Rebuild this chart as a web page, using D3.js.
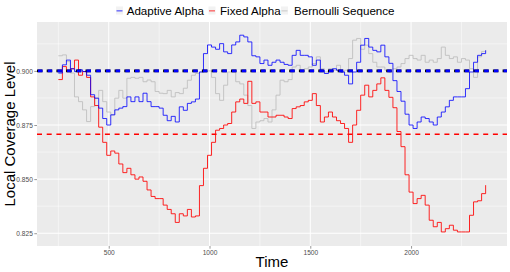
<!DOCTYPE html>
<html><head><meta charset="utf-8">
<script src="https://cdn.jsdelivr.net/npm/d3@7"></script>
<style>body{margin:0;background:#fff}svg{display:block;font-family:"Liberation Sans",Arial,sans-serif}</style>
</head><body><svg id="c" width="510" height="272"></svg>
<script>
const times = [250,270,290,310,330,350,370,390,410,430,450,470,490,510,530,550,570,590,610,630,650,670,690,710,730,750,770,790,810,830,850,870,890,910,930,950,970,990,1010,1030,1050,1070,1090,1110,1130,1150,1170,1190,1210,1230,1250,1270,1290,1310,1330,1350,1370,1390,1410,1430,1450,1470,1490,1510,1530,1550,1570,1590,1610,1630,1650,1670,1690,1710,1730,1750,1770,1790,1810,1830,1850,1870,1890,1910,1930,1950,1970,1990,2010,2030,2050,2070,2090,2110,2130,2150,2170,2190,2210,2230,2250,2270,2290,2310,2330,2350,2370];
const adaptive = [0.899,0.9028,0.905,0.901,0.8997,0.9005,0.8997,0.898,0.889,0.8874,0.8828,0.878,0.875,0.8797,0.882,0.8828,0.8835,0.888,0.8858,0.888,0.8858,0.8897,0.8858,0.8835,0.8835,0.8828,0.8795,0.877,0.879,0.8764,0.8834,0.8818,0.885,0.8857,0.887,0.8995,0.908,0.912,0.911,0.91,0.9126,0.9088,0.908,0.912,0.9134,0.9165,0.9157,0.9134,0.907,0.9065,0.9034,0.905,0.9026,0.904,0.905,0.904,0.903,0.9026,0.9072,0.9095,0.9072,0.9072,0.9065,0.9026,0.905,0.9003,0.8988,0.9003,0.901,0.9003,0.8995,0.898,0.894,0.8995,0.904,0.9119,0.915,0.911,0.9095,0.9088,0.9119,0.9065,0.9035,0.8955,0.8905,0.886,0.88,0.875,0.8734,0.8764,0.8787,0.878,0.8764,0.875,0.8787,0.881,0.8834,0.8864,0.888,0.888,0.888,0.8918,0.8995,0.904,0.9072,0.908,0.9095];
const fixed = [0.896,0.902,0.8997,0.901,0.905,0.898,0.8997,0.897,0.888,0.884,0.874,0.867,0.861,0.863,0.862,0.857,0.853,0.855,0.852,0.85,0.851,0.849,0.845,0.842,0.841,0.841,0.838,0.836,0.834,0.83,0.834,0.833,0.836,0.8325,0.833,0.847,0.855,0.861,0.867,0.8726,0.8734,0.875,0.8757,0.881,0.8857,0.887,0.885,0.8952,0.885,0.8857,0.881,0.881,0.8787,0.8787,0.8795,0.8795,0.8787,0.878,0.8826,0.8834,0.884,0.8857,0.8864,0.8895,0.884,0.8764,0.8787,0.881,0.8787,0.877,0.8757,0.8734,0.867,0.875,0.8818,0.8888,0.8934,0.888,0.891,0.894,0.8968,0.891,0.8878,0.883,0.872,0.865,0.852,0.844,0.8387,0.841,0.8425,0.838,0.831,0.828,0.83,0.8256,0.8271,0.8287,0.8264,0.8256,0.8256,0.8256,0.8333,0.8395,0.84,0.8433,0.8472];
const bernoulli = [0.907,0.9074,0.9043,0.899,0.888,0.8858,0.882,0.8766,0.8835,0.8874,0.891,0.8858,0.881,0.8797,0.8874,0.891,0.8874,0.8966,0.897,0.8966,0.897,0.895,0.8958,0.895,0.8905,0.8897,0.8895,0.891,0.888,0.89,0.8895,0.892,0.8957,0.898,0.8988,0.8995,0.8995,0.9,0.897,0.8895,0.8864,0.8934,0.8995,0.8995,0.895,0.894,0.8888,0.884,0.8734,0.8764,0.877,0.878,0.8764,0.882,0.8888,0.8957,0.895,0.896,0.9018,0.9026,0.8995,0.901,0.9018,0.9034,0.9065,0.901,0.8995,0.901,0.9003,0.9026,0.8995,0.9003,0.9057,0.9142,0.915,0.91,0.9119,0.908,0.904,0.9018,0.9018,0.9003,0.8995,0.901,0.9018,0.9034,0.9057,0.9072,0.9057,0.905,0.9072,0.904,0.905,0.904,0.9057,0.911,0.9072,0.9057,0.9065,0.904,0.9057,0.905,0.901,0.897,0.9065,0.909,0.9095];
const targetLevel = 0.9;
const fixedMean = 0.8707;
const xTicks = [500,1000,1500,2000];
const xMinor = [250,750,1250,1750,2250];
const yTicks = [0.825,0.85,0.875,0.9];
const yMinor = [0.8375,0.8625,0.8875,0.9125];
const seriesNames = ["Adaptive Alpha","Fixed Alpha","Bernoulli Sequence"];
const seriesColors = ["#0000ff","#ff0000","#bdbdbd"];

const svg = d3.select("#c");
const L=37,R=507,T=22,B=246;
const x = d3.scaleLinear().domain([144,2476]).range([L,R]);
const y = d3.scaleLinear().domain([0.8191,0.9226]).range([B,T]);

svg.append("rect").attr("x",L).attr("y",T).attr("width",R-L).attr("height",B-T).attr("fill","#ebebeb");
const g = svg.append("g");
xMinor.forEach(v=>g.append("line").attr("x1",x(v)).attr("x2",x(v)).attr("y1",T).attr("y2",B).attr("stroke","#fff").attr("stroke-width",0.5));
yMinor.forEach(v=>g.append("line").attr("y1",y(v)).attr("y2",y(v)).attr("x1",L).attr("x2",R).attr("stroke","#fff").attr("stroke-width",0.5));
xTicks.forEach(v=>g.append("line").attr("x1",x(v)).attr("x2",x(v)).attr("y1",T).attr("y2",B).attr("stroke","#fff").attr("stroke-width",1));
yTicks.forEach(v=>g.append("line").attr("y1",y(v)).attr("y2",y(v)).attr("x1",L).attr("x2",R).attr("stroke","#fff").attr("stroke-width",1));

const data = [bernoulli, fixed, adaptive];
const cols = [seriesColors[2], seriesColors[1], seriesColors[0]];
const line = d3.line().x((d,i)=>x(times[i])).y(d=>y(d)).curve(d3.curveStepAfter);
data.forEach((s,j)=>{
  svg.append("path").datum(s).attr("d",line).attr("fill","none").attr("stroke",cols[j]).attr("stroke-width",1).attr("stroke-opacity",j==2?0.8:0.85);
});

svg.append("line").attr("x1",L).attr("x2",R).attr("y1",y(fixedMean)).attr("y2",y(fixedMean))
  .attr("stroke","#ff0000").attr("stroke-width",1.4).attr("stroke-dasharray","5,4.7");
svg.append("line").attr("x1",L).attr("x2",R).attr("y1",y(targetLevel)).attr("y2",y(targetLevel))
  .attr("stroke","#000").attr("stroke-width",2.8).attr("stroke-dasharray","5.5,4.2");
svg.append("line").attr("x1",L).attr("x2",R).attr("y1",y(targetLevel)).attr("y2",y(targetLevel))
  .attr("stroke","#0000ff").attr("stroke-width",2.8).attr("stroke-dasharray","4.5,5.2").attr("stroke-dashoffset",-1);

// axes
const xa = svg.append("g").attr("transform",`translate(0,${B})`)
  .call(d3.axisBottom(x).tickValues(xTicks).tickSize(2.7).tickPadding(1.5).tickFormat(d3.format("d")));
const ya = svg.append("g").attr("transform",`translate(${L},0)`)
  .call(d3.axisLeft(y).tickValues(yTicks).tickSize(2.7).tickPadding(1.5).tickFormat(d3.format(".3f")));
[xa,ya].forEach(a=>{
  a.select(".domain").remove();
  a.selectAll(".tick line").attr("stroke","#333").attr("stroke-width",0.5);
  a.selectAll(".tick text").attr("fill","#4d4d4d").attr("font-size",6.6).attr("font-family","Liberation Sans, Arial, sans-serif");
});

svg.append("text").attr("x",(L+R)/2).attr("y",267).attr("text-anchor","middle").attr("font-size",15).attr("fill","#000").text("Time");
svg.append("text").attr("transform",`translate(14.5,${(T+B)/2}) rotate(-90)`).attr("text-anchor","middle").attr("font-size",15).attr("fill","#000").text("Local Coverage Level");

// legend
const keyX = [116,208.5,281];
const textX = [126.7,220,294];
const leg = svg.append("g");
seriesNames.forEach((n,i)=>{
  leg.append("rect").attr("x",keyX[i]).attr("y",6.5).attr("width",7).attr("height",8).attr("fill","#f2f2f2");
  leg.append("line").attr("x1",keyX[i]+0.5).attr("x2",keyX[i]+6.5).attr("y1",10.8).attr("y2",10.8)
    .attr("stroke",seriesColors[i]).attr("stroke-width",1.6).attr("stroke-opacity",0.5);
  leg.append("text").attr("x",textX[i]).attr("y",15).attr("font-size",11.6).attr("fill","#000").text(n);
});
</script></body></html>
